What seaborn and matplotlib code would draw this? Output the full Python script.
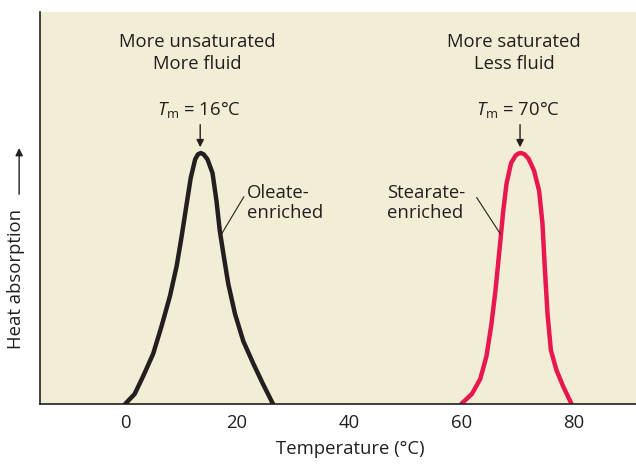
import matplotlib
matplotlib.use("Agg")
import matplotlib.pyplot as plt
import seaborn as sns
import pandas as pd

# Dados (altura normalizada: pico = 1)
oleato_temp = [0.0, 1.7, 3.2, 5.0, 6.5, 8.0, 9.2, 10.1, 11.0, 11.7, 12.5, 13.0, 13.5,
               14.0, 14.7, 15.6, 16.3, 16.9, 17.6, 18.4, 19.6, 21.1, 22.9, 24.6, 26.4]
oleato_calor = [0.0, 0.04, 0.11, 0.20, 0.31, 0.43, 0.55, 0.67, 0.80, 0.90, 0.975, 0.995, 1.0,
                0.995, 0.975, 0.92, 0.81, 0.69, 0.59, 0.48, 0.36, 0.25, 0.16, 0.08, 0.0]

estearato_temp = [60.0, 61.9, 63.4, 64.5, 65.4, 66.1, 66.9, 67.5, 68.1, 68.9, 69.7, 70.2,
                  70.7, 71.3, 72.0, 73.0, 73.9, 74.5, 74.9, 75.4, 76.0, 77.0, 78.2, 79.7]
estearato_calor = [0.0, 0.04, 0.10, 0.19, 0.32, 0.45, 0.63, 0.77, 0.88, 0.96, 0.99, 0.998,
                   1.0, 0.995, 0.978, 0.93, 0.85, 0.72, 0.55, 0.36, 0.215, 0.135, 0.07, 0.0]

xticks = [0, 20, 40, 60, 80]
tm_oleato = 13.4
tm_estearato = 70.5

df_o = pd.DataFrame({"temp": oleato_temp, "calor": oleato_calor})
df_e = pd.DataFrame({"temp": estearato_temp, "calor": estearato_calor})

sns.set_theme(style="white")
plt.rcParams["font.family"] = ["Open Sans", "DejaVu Sans"]
plt.rcParams["mathtext.fontset"] = "custom"
plt.rcParams["mathtext.rm"] = "Open Sans"
plt.rcParams["mathtext.it"] = "Open Sans:italic"

cor_texto = "#231f20"
cor_preta = "#231f20"
cor_vermelha = "#e8174f"
fs = 13.3

fig = plt.figure(figsize=(6.36, 4.65), dpi=100)
ax = fig.add_axes([40 / 636, 61 / 465, 596 / 636, 392 / 465])
ax.set_facecolor("#f2edd5")

sns.lineplot(data=df_o, x="temp", y="calor", color=cor_preta, lw=3.2,
             estimator=None, sort=False, ax=ax, solid_joinstyle="round")
sns.lineplot(data=df_e, x="temp", y="calor", color=cor_vermelha, lw=3.2,
             estimator=None, sort=False, ax=ax, solid_joinstyle="round")

ax.set_xlim(-15.2, 91.2)
ax.set_ylim(0, 1.562)
ax.set_xticks(xticks)
ax.set_xticklabels([str(t) for t in xticks], fontsize=fs, color=cor_texto)
ax.set_yticks([])
ax.tick_params(axis="x", direction="in", length=4.5, width=0.9, color=cor_texto, pad=7)
for lado in ["top", "right"]:
    ax.spines[lado].set_visible(False)
for lado in ["left", "bottom"]:
    ax.spines[lado].set_color(cor_texto)
    ax.spines[lado].set_linewidth(1.2)

ax.set_xlabel("Temperature (°C)", fontsize=fs, color=cor_texto)
ax.xaxis.set_label_coords(0.52, -0.093)
ax.set_ylabel("")

# Rótulo do eixo y com seta
ax.text(-0.040, 0.319, "Heat absorption", rotation=90, transform=ax.transAxes,
        ha="center", va="center", fontsize=fs, color=cor_texto)
ax.annotate("", xy=(-0.035, 0.660), xytext=(-0.035, 0.528),
            xycoords="axes fraction", textcoords="axes fraction",
            arrowprops=dict(arrowstyle="-|>", color=cor_texto, lw=1, mutation_scale=11))

# Textos superiores
ax.text(12.8, 1.40, "More unsaturated\nMore fluid", ha="center", va="center",
        fontsize=fs, color=cor_texto, linespacing=1.28)
ax.text(69.4, 1.40, "More saturated\nLess fluid", ha="center", va="center",
        fontsize=fs, color=cor_texto, linespacing=1.28)

# Tm e setas
for tm, txt in [(tm_oleato, r"$T_{\mathrm{m}}$ = 16°C"), (tm_estearato, r"$T_{\mathrm{m}}$ = 70°C")]:
    ax.text(tm - 0.3, 1.151, txt, ha="center", va="baseline", fontsize=fs, color=cor_texto)
    ax.annotate("", xy=(tm, 1.012), xytext=(tm, 1.124),
                arrowprops=dict(arrowstyle="-|>", color=cor_texto, lw=1, mutation_scale=11))

# Rótulos das curvas
ax.text(21.7, 0.878, "Oleate-\nenriched", ha="left", va="top", fontsize=fs,
        color=cor_texto, linespacing=1.15)
ax.plot([21.2, 17.2], [0.826, 0.677], color=cor_texto, lw=0.8)
ax.text(46.7, 0.878, "Stearate-\nenriched", ha="left", va="top", fontsize=fs,
        color=cor_texto, linespacing=1.15)
ax.plot([62.75, 67.0], [0.823, 0.677], color=cor_texto, lw=0.8)

fig.savefig("out.png", dpi=100)
